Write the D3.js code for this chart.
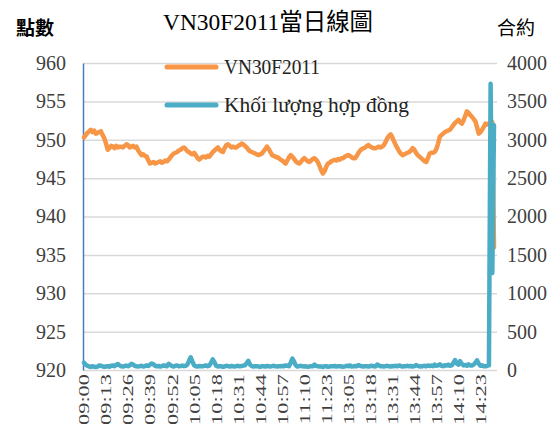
<!DOCTYPE html>
<html>
<head>
<meta charset="utf-8">
<script src="https://cdn.jsdelivr.net/npm/d3@7"></script>
<style>
  html, body { margin: 0; padding: 0; background: #fff; }
  svg { display: block; }
</style>
</head>
<body>
<svg id="chart" width="552" height="424"></svg>
<script>
// trading sessions, one point per minute, plus the closing auction
const sessions = [['09:00', '11:30'], ['13:00', '14:30']]
const closeAuction = '14:45'

const xTickLabels = ['09:00', '09:13', '09:26', '09:39', '09:52', '10:05', '10:18', '10:31', '10:44',
  '10:57', '11:10', '11:23', '13:05', '13:18', '13:31', '13:44', '13:57', '14:10', '14:23']

const priceTicks = [920, 925, 930, 935, 940, 945, 950, 955, 960]
const volumeTicks = [0, 500, 1000, 1500, 2000, 2500, 3000, 3500, 4000]

const price = [
  950.3, 950.6, 950.9, 951.1, 951.3, 951.0, 951.2, 950.8, 950.9, 951.0,
  951.1, 950.6, 950.2, 949.5, 948.7, 948.9, 949.2, 949.1, 948.9, 949.2,
  949.0, 949.1, 949.1, 949.0, 949.2, 949.4, 949.3, 949.0, 949.1, 949.2,
  949.0, 949.1, 948.6, 948.3, 948.0, 948.1, 947.9, 947.8, 947.3, 946.9,
  947.0, 947.1, 946.9, 947.0, 947.1, 947.2, 947.0, 947.1, 947.3, 947.2,
  947.4, 947.7, 948.0, 948.2, 948.3, 948.4, 948.6, 948.7, 948.9, 949.0,
  948.8, 948.5, 948.4, 948.2, 948.1, 948.3, 948.0, 947.6, 947.4, 947.6,
  947.8, 947.8, 947.7, 947.9, 947.8, 948.1, 948.4, 948.6, 948.8, 949.0,
  948.7, 948.5, 948.4, 948.9, 949.3, 949.4, 949.2, 949.0, 949.1, 949.0,
  949.0, 949.2, 949.3, 949.5, 949.4, 949.2, 949.0, 948.7, 948.5, 948.4,
  948.3, 948.2, 948.1, 948.0, 948.1, 948.2, 948.5, 948.8, 949.1, 948.8,
  948.4, 948.0, 947.9, 947.8, 947.7, 947.6, 947.4, 947.3, 947.1, 946.9,
  947.3, 947.7, 948.0, 947.8, 947.5, 947.2, 947.0, 946.9, 947.1, 947.4,
  947.6, 947.4, 947.2, 947.1, 947.3, 947.5, 947.6, 947.4, 947.1, 946.6,
  946.0, 945.6, 945.9, 946.5, 946.9, 947.0, 947.2, 947.3, 947.4, 947.3,
  947.5, 947.4, 947.6, 947.6, 947.8, 947.9, 948.0, 947.9, 947.7, 947.6,
  947.6, 947.9, 948.3, 948.6, 948.8, 948.9, 949.0, 949.2, 949.3, 949.1,
  949.0, 948.9, 948.9, 949.0, 949.1, 949.0, 949.1, 949.3, 949.7, 950.2,
  950.5, 950.7, 950.3, 949.8, 949.3, 948.9, 948.5, 948.2, 948.0, 948.1,
  948.2, 948.3, 948.4, 948.6, 948.9, 948.7, 948.3, 948.0, 947.8, 947.6,
  947.4, 947.2, 947.1, 947.6, 948.2, 948.3, 948.3, 948.4, 948.8, 949.5,
  950.4, 950.6, 950.8, 951.0, 951.1, 951.2, 951.3, 951.6, 951.9, 952.2,
  952.4, 952.6, 952.3, 952.1, 952.5, 953.1, 953.7, 953.5, 953.2, 953.0,
  952.7, 952.4, 951.6, 950.8, 951.0, 951.3, 951.7, 952.1, 952.0, 952.1,
  952.2, 952.3, 936.0
]

const volume = [
  95, 70, 55, 45, 40, 50, 42, 38, 45, 60,
  55, 48, 40, 45, 50, 42, 55, 60, 50, 65,
  78, 60, 48, 45, 52, 58, 50, 62, 80, 70,
  55, 48, 44, 50, 55, 45, 50, 60, 52, 70,
  85, 75, 55, 48, 52, 45, 50, 60, 55, 48,
  80, 65, 50, 45, 55, 60, 48, 52, 58, 50,
  55, 70, 120, 165, 110, 60, 48, 45, 52, 50,
  48, 55, 60, 50, 58, 95, 140, 100, 55, 45,
  50, 48, 42, 46, 55, 50, 45, 52, 48, 45,
  50, 55, 48, 52, 58, 62, 90, 120, 70, 50,
  45, 48, 50, 45, 42, 50, 48, 45, 52, 48,
  45, 50, 55, 48, 45, 50, 48, 52, 50, 60,
  55, 50, 95, 150, 110, 60, 45, 50, 55, 48,
  45, 48, 42, 45, 50, 48, 70, 55, 48, 45,
  45, 40, 48, 50, 42, 45, 50, 48, 52, 45,
  50, 48, 45, 42, 48, 55, 50, 60, 45, 48,
  52, 50, 65, 55, 48, 45, 50, 48, 45, 52,
  55, 48, 45, 70, 60, 50, 48, 45, 50, 55,
  48, 45, 52, 50, 55, 48, 60, 52, 45, 48,
  50, 55, 48, 52, 45, 50, 65, 55, 48, 45,
  50, 55, 48, 60, 52, 58, 50, 70, 55, 60,
  75, 55, 50, 62, 58, 70, 55, 60, 90, 130,
  85, 70, 115, 80, 60, 65, 55, 75, 60, 58,
  70, 95, 125, 80, 55, 60, 50, 48, 55, 60,
  3730, 1264, 3190
]

const priceName = 'VN30F2011'
const volumeName = 'Khối lượng hợp đồng'
const chartTitle = 'VN30F2011當日線圖'

// build the minute labels for the category axis
function minutesOf (t) {
  const p = t.split(':')
  return +p[0] * 60 + +p[1]
}
function fmt (m) {
  return String(Math.floor(m / 60)).padStart(2, '0') + ':' + String(m % 60).padStart(2, '0')
}
const times = []
sessions.forEach(s => {
  for (let m = minutesOf(s[0]); m <= minutesOf(s[1]); m++) times.push(fmt(m))
})
times.push(closeAuction)

const serif = '"Liberation Serif", "Times New Roman", "Noto Sans CJK TC", serif'
const cjk = '"Noto Sans CJK TC", "Noto Sans CJK SC", sans-serif'
const orange = '#f79646'
const blue = '#4bacc6'

const svg = d3.select('#chart')
const plot = { left: 84, right: 494, top: 63, bottom: 370 }

const x = d3.scaleLinear().domain([0, times.length - 1]).range([plot.left, plot.right])
const yPrice = d3.scaleLinear().domain([920, 960]).range([plot.bottom, plot.top])
const yVol = d3.scaleLinear().domain([0, 4000]).range([plot.bottom, plot.top])

// d3 puts sans-serif on the axis group, swap it for the serif face
function serifAxis (g, size) {
  g.attr('font-family', serif).attr('font-size', size)
  g.selectAll('text')
    .attr('font-family', serif)
    .attr('font-size', size)
    .attr('fill', '#404040')
}

// gridlines
svg.append('g')
  .attr('transform', `translate(${plot.left - 1},0)`)
  .call(d3.axisLeft(yPrice).tickValues(priceTicks).tickSize(-(plot.right - plot.left + 4)).tickFormat(''))
  .call(g => g.select('.domain').remove())
  .selectAll('line')
  .attr('stroke', '#d9d9d9')
  .attr('stroke-width', 1.5)

// left axis
svg.append('g')
  .attr('transform', `translate(${plot.left - 1},0)`)
  .call(d3.axisLeft(yPrice).tickValues(priceTicks).tickFormat(d3.format('d')).tickSize(0).tickPadding(17))
  .call(g => g.select('.domain').attr('stroke', '#4a7ebb').attr('stroke-width', 1.5))
  .call(serifAxis, 20)

// right axis
svg.append('g')
  .attr('transform', `translate(${plot.right + 3},0)`)
  .call(d3.axisRight(yVol).tickValues(volumeTicks).tickFormat(d3.format('d')).tickSize(0).tickPadding(10))
  .call(g => g.select('.domain').remove())
  .call(serifAxis, 20)

// category axis, labels turned upright
svg.append('g')
  .attr('transform', `translate(0,${plot.bottom})`)
  .call(d3.axisBottom(x)
    .tickValues(xTickLabels.map(t => times.indexOf(t)))
    .tickFormat(i => times[i])
    .tickSize(0))
  .call(g => g.select('.domain').remove())
  .call(serifAxis, 14)
  .selectAll('text')
  .attr('text-anchor', 'end')
  .attr('dy', '0.35em')
  .attr('y', 0)
  .attr('transform', 'translate(0,4) rotate(-90) scale(1.6,1)')

const priceLine = d3.line()
  .x((_, i) => x(i))
  .y(d => yPrice(d))

const volLine = d3.line()
  .x((_, i) => x(i))
  .y(d => yVol(d))

svg.append('path')
  .attr('d', priceLine(price))
  .attr('fill', 'none')
  .attr('stroke', orange)
  .attr('stroke-width', 4.5)
  .attr('stroke-linejoin', 'round')
  .attr('stroke-linecap', 'round')

svg.append('path')
  .attr('d', volLine(volume))
  .attr('fill', 'none')
  .attr('stroke', blue)
  .attr('stroke-width', 4.5)
  .attr('stroke-linejoin', 'round')
  .attr('stroke-linecap', 'round')

// legend
const legend = [
  { name: priceName, color: orange, y: 67, len: 96 },
  { name: volumeName, color: blue, y: 105, len: 185 }
]
legend.forEach(d => {
  svg.append('line')
    .attr('x1', 167).attr('x2', 216)
    .attr('y1', d.y).attr('y2', d.y)
    .attr('stroke', d.color)
    .attr('stroke-width', 5)
    .attr('stroke-linecap', 'round')
  svg.append('text')
    .attr('x', 224)
    .attr('y', d.y + 7)
    .attr('font-family', serif)
    .attr('font-size', 21)
    .attr('fill', '#222')
    .attr('textLength', d.len)
    .attr('lengthAdjust', 'spacingAndGlyphs')
    .text(d.name)
})

// title and axis names
svg.append('text')
  .attr('x', 163)
  .attr('y', 30)
  .attr('font-family', serif)
  .attr('font-size', 24)
  .attr('textLength', 210)
  .attr('lengthAdjust', 'spacingAndGlyphs')
  .text(chartTitle)

svg.append('text')
  .attr('x', 35).attr('y', 35)
  .attr('text-anchor', 'middle')
  .attr('font-family', cjk)
  .attr('font-weight', 700)
  .attr('font-size', 19)
  .text('點數')

svg.append('text')
  .attr('x', 516).attr('y', 35)
  .attr('text-anchor', 'middle')
  .attr('font-family', cjk)
  .attr('font-size', 19)
  .text('合約')
</script>
</body>
</html>
